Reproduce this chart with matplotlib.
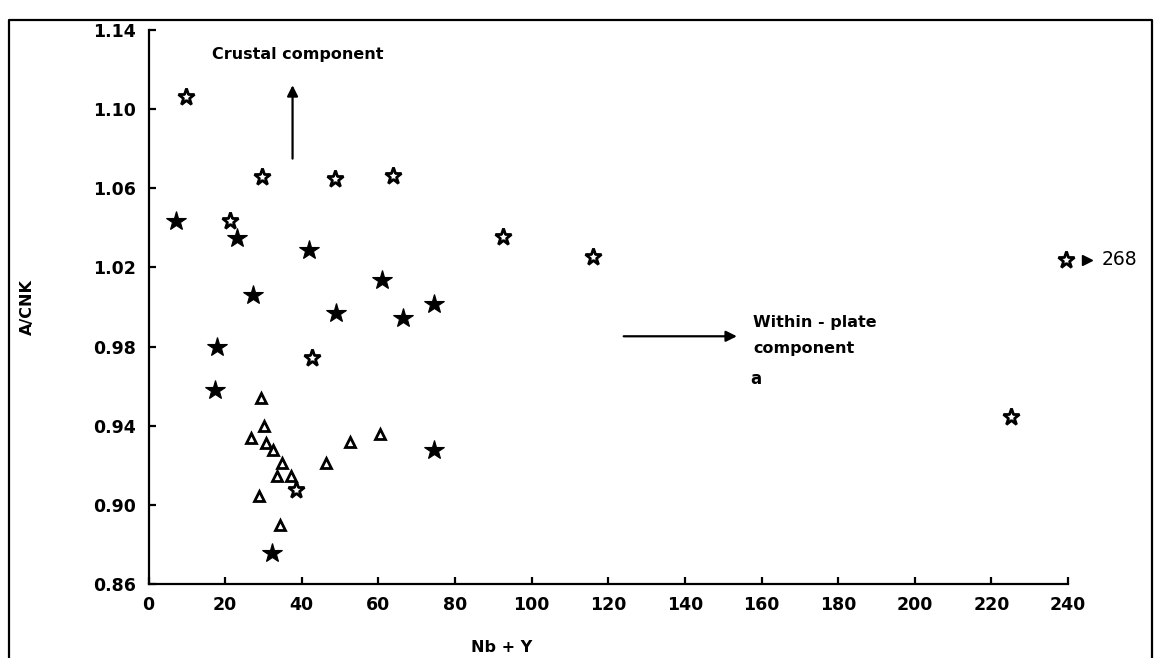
import matplotlib
matplotlib.use("Agg")
import matplotlib.pyplot as plt
from matplotlib.lines import Line2D

# ---- data ----
open_x = [9.8, 29.6, 48.7, 63.7, 21.3, 42.7, 92.6, 115.9, 38.4, 239.5, 225.0]
open_y = [1.106, 1.0657, 1.0649, 1.066, 1.0436, 0.974, 1.0352, 1.0254, 0.9077, 1.0238, 0.9446]

filled_x = [7.1, 23.2, 41.9, 60.9, 27.2, 49.0, 66.4, 74.6, 18.0, 17.4, 74.4, 32.2]
filled_y = [1.0434, 1.0347, 1.0288, 1.0137, 1.0062, 0.997, 0.9944, 1.0016, 0.980, 0.958, 0.9278, 0.8758]

tri_x = [29.4, 30.2, 26.8, 30.6, 32.4, 34.9, 33.5, 37.1, 28.9, 34.4, 46.3, 52.6, 60.4]
tri_y = [0.9542, 0.9399, 0.9336, 0.9312, 0.9277, 0.9210, 0.9146, 0.9146, 0.9047, 0.890, 0.9211, 0.9318, 0.9356]

x_ticks = list(range(0, 241, 20))
y_ticks = [0.86, 0.90, 0.94, 0.98, 1.02, 1.06, 1.10, 1.14]
y_tick_labels = ["0.86", "0.90", "0.94", "0.98", "1.02", "1.06", "1.10", "1.14"]

plt.rcParams['font.family'] = ['DejaVu Sans']

W, H = 1161, 658
fig = plt.figure(figsize=(W / 100, H / 100), dpi=100)
fig.patch.set_facecolor('white')

left = 148.5 / W
right = 1068 / W
bottom = 1 - 584 / H
top = 1 - 30 / H
ax = fig.add_axes([left, bottom, right - left, top - bottom])

ax.set_xlim(0, 240)
ax.set_ylim(0.86, 1.14)
for s in ['top', 'right']:
    ax.spines[s].set_visible(False)
for s in ['left', 'bottom']:
    ax.spines[s].set_linewidth(1.6)
    ax.spines[s].set_color('black')

ax.set_xticks(x_ticks)
ax.set_xticklabels([str(v) for v in x_ticks])
ax.set_yticks(y_ticks)
ax.set_yticklabels(y_tick_labels)
ax.tick_params(direction='in', length=5, width=1.6, labelsize=12.5, pad=9, colors='black')
for lab in ax.get_xticklabels() + ax.get_yticklabels():
    lab.set_fontweight('bold')

# markers
ax.plot(tri_x, tri_y, linestyle='none', marker='^', ms=6.5, mfc='white', mec='black', mew=2.0, clip_on=False)
ax.plot(filled_x, filled_y, linestyle='none', marker='*', ms=15, mfc='black', mec='black', mew=0.8, clip_on=False)
ax.plot(open_x, open_y, linestyle='none', marker='*', ms=12.5, mfc='white', mec='black', mew=2.0, clip_on=False)

# annotations
ax.text(16.5, 1.1278, "Crustal component", fontsize=11.5, fontweight='bold', va='center', ha='left')
ax.annotate("", xy=(37.6, 1.1135), xytext=(37.6, 1.0736),
            arrowprops=dict(arrowstyle='-|>', color='black', lw=1.6, mutation_scale=16))
ax.annotate("", xy=(154.3, 0.9852), xytext=(123.3, 0.9852),
            arrowprops=dict(arrowstyle='-|>', color='black', lw=1.6, mutation_scale=16))
ax.text(157.9, 0.9920, "Within - plate", fontsize=11.5, fontweight='bold', va='center', ha='left')
ax.text(157.9, 0.9788, "component", fontsize=11.5, fontweight='bold', va='center', ha='left')
ax.text(157.0, 0.9634, "a", fontsize=12, fontweight='bold', va='center', ha='left')

ax.plot([245.0], [1.0238], linestyle='none', marker='>', ms=7, color='black', clip_on=False)
ax.text(248.8, 1.0238, "268", fontsize=13.5, va='center', ha='left', clip_on=False)

# axis titles
fig.text(502 / W, 1 - 648 / H, "Nb + Y", fontsize=11.5, fontweight='bold', ha='center', va='center')
fig.text(27 / W, 1 - 307 / H, "A/CNK", fontsize=11.5, fontweight='bold', ha='center', va='center', rotation=90)

# outer frame of the scanned figure
fx0, fx1, fy1 = 9 / W, 1152 / W, 1 - 20 / H
fig.add_artist(Line2D([fx0, fx0, fx1, fx1], [0, fy1, fy1, 0], transform=fig.transFigure,
                      color='black', lw=1.6))

fig.savefig("out.png", dpi=100, facecolor='white')
